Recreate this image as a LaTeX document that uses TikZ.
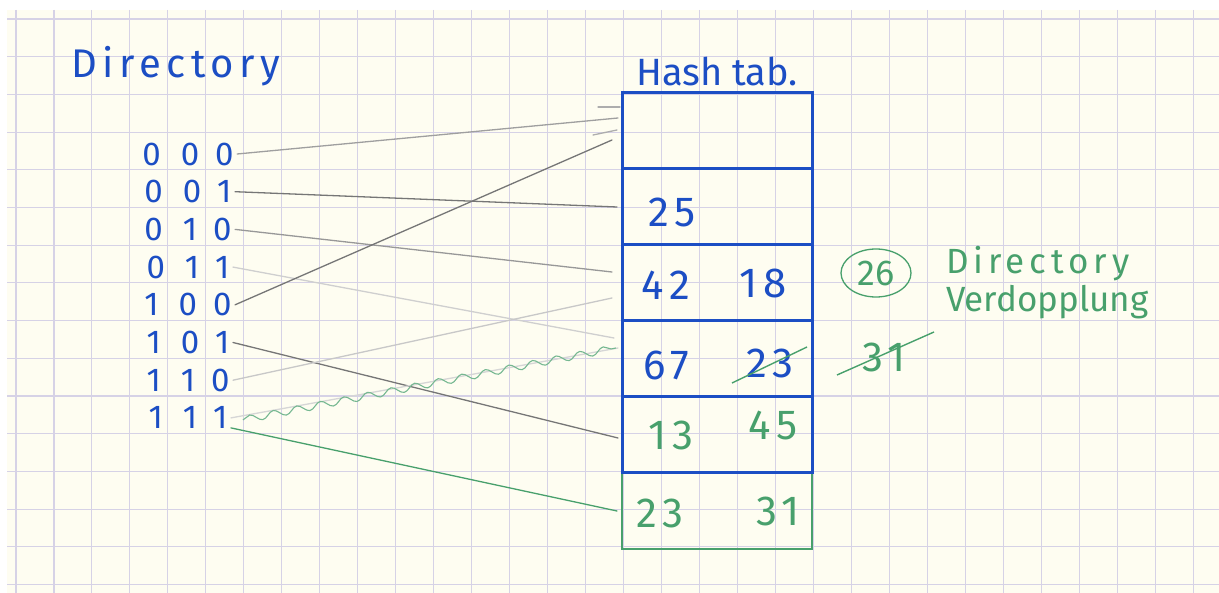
\documentclass[tikz,border=0pt]{standalone}
\usepackage{fontspec}
\setmainfont{Fira Sans}
\newfontfamily\hand[LetterSpace=14]{Fira Sans}
\usetikzlibrary{positioning,shapes.geometric,decorations.pathmorphing}
\definecolor{ink}{RGB}{28,78,196}
\definecolor{inkgreen}{RGB}{72,160,108}
\definecolor{pencil}{RGB}{118,118,118}
\definecolor{paper}{RGB}{254,253,241}
\definecolor{gridline}{RGB}{214,210,230}
\begin{document}
\begin{tikzpicture}[x=1pt, y=-1pt,
	title/.style={ink, font=\hand\fontsize{40}{40}\selectfont},
	bits/.style={ink, font=\fontsize{33}{33}\selectfont},
	bucket/.style={draw=ink, line width=3pt, minimum width=190pt, minimum height=76pt, inner sep=0pt, outer sep=0pt},
	num/.style={font=\hand\fontsize{42}{42}\selectfont},
	note/.style={inkgreen, font=\fontsize{35}{38}\selectfont, align=left, inner sep=0pt},
	ptr/.style={pencil, line width=1.3pt, line cap=round}]
	\useasboundingbox (0,0) rectangle (1219,593);
	\fill[white] (0,0) rectangle (1219,593);
	\fill[paper] (7,10) rectangle (1219,593);
	\foreach \k in {0,...,31} {\draw[gridline, line width=1.1pt] ({16+37.97*\k},10) -- ({16+37.97*\k},593);}
	\foreach \k in {0,...,15} {\draw[gridline, line width=1.1pt] (7,{19+37.7*\k}) -- (1219,{19+37.7*\k});}
	\node[title] (dirtitle) at (176,66) {Directory};
	\foreach \a/\b/\c [count=\i from 0] in {0/0/0,0/0/1,0/1/0,0/1/1,1/0/0,1/0/1,1/1/0,1/1/1}
		{\node[bits] (d\a\b\c) at (188,{154+37.7*\i}) {\a\hspace{20pt}\b\hspace{16pt}\c};}
	\node[bucket] (b0) at (717,131) {};
	\node[bucket, below=0pt of b0] (b1) {};
	\node[bucket, below=0pt of b1] (b2) {};
	\node[bucket, below=0pt of b2] (b3) {};
	\node[bucket, below=0pt of b3] (b4) {};
	\node[minimum width=190pt, minimum height=76pt, inner sep=0pt, outer sep=0pt, below=0pt of b4] (b5) {};
	\draw[inkgreen, line width=1.4pt] ([yshift=-1.5pt]b5.north west) -- (b5.south west) -- (b5.south east) -- ([yshift=-1.5pt]b5.north east);
	\node[ink, font=\fontsize{38}{38}\selectfont, above=4pt of b0] (hashtitle) {Hash tab.};
	\node[num, ink] (k25) at ([xshift=-45pt, yshift=-5pt]b1.center) {25};
	\node[num, ink] (k42) at ([xshift=-51pt, yshift=-2pt]b2.center) {42};
	\node[num, ink] (k18) at ([xshift=46pt]b2.center) {18};
	\node[num, ink] (k67) at ([xshift=-51pt, yshift=-6pt]b3.center) {67};
	\node[num, ink] (k23) at ([xshift=53pt, yshift=-4pt]b3.center) {23};
	\node[num, inkgreen] (k13) at ([xshift=-46pt]b4.center) {13};
	\node[num, inkgreen] (k45) at ([xshift=56pt, yshift=10pt]b4.center) {45};
	\node[num, inkgreen] (n23) at ([xshift=-57pt, yshift=-2pt]b5.center) {23};
	\node[num, inkgreen] (n31) at ([xshift=61pt]b5.center) {31};
	\node[num, inkgreen] (old31) at ([xshift=114pt, yshift=6pt]k23.center) {31};
	\draw[inkgreen, line width=1.4pt] ([xshift=-38pt, yshift=-20pt]k23.center) -- ([xshift=37pt, yshift=16pt]k23.center);
	\draw[inkgreen, line width=1.4pt] ([xshift=-47pt, yshift=-18pt]old31.center) -- ([xshift=50pt, yshift=25pt]old31.center);
	\node[draw=inkgreen, line width=1.3pt, ellipse, minimum width=70pt, minimum height=48pt, inner sep=0pt, inkgreen, font=\fontsize{36}{36}\selectfont] (c26) at (876,273) {26};
	\node[note, anchor=north west] (doubling) at (946,246) {{\hand Directory}\\Verdopplung};
	\draw[ptr, pencil!70] (d000.east) -- ([xshift=-4pt, yshift=13pt]b0.west);
	\draw[ptr] (d001.east) -- ([xshift=-5pt]b1.west);
	\draw[ptr, pencil!75] (d010.east) -- ([xshift=-10pt, yshift=11pt]b2.west);
	\draw[ptr, pencil!35] (d011.east) -- ([xshift=-8pt, yshift=21pt]b3.west);
	\draw[ptr] (d100.east) -- ([xshift=-10pt, yshift=-9pt]b0.west);
	\draw[ptr] (d101.east) -- ([xshift=-4pt, yshift=-3pt]b4.west);
	\draw[ptr, pencil!40] (d110.east) -- ([xshift=-10pt, yshift=-15pt]b2.west);
	\draw[ptr, pencil!30] (d111.east) -- ([xshift=-4pt, yshift=11pt]b3.west);
	\draw[inkgreen!75, line width=1.1pt, decorate, decoration={snake, amplitude=3.5pt, segment length=24pt}] ([xshift=12pt, yshift=-2pt]d111.east) -- ([xshift=-6pt, yshift=11pt]b3.west);
	\draw[ptr, inkgreen] ([yshift=-10pt]d111.east) -- ([xshift=-5pt]b5.west);
	\draw[ptr, pencil!60] ([xshift=-24pt, yshift=24pt]b0.west) -- ([xshift=-2pt, yshift=24pt]b0.west);
	\draw[ptr, pencil!60] ([xshift=-29pt, yshift=-4pt]b0.west) -- ([xshift=-5pt, yshift=1pt]b0.west);
\end{tikzpicture}
\end{document}
